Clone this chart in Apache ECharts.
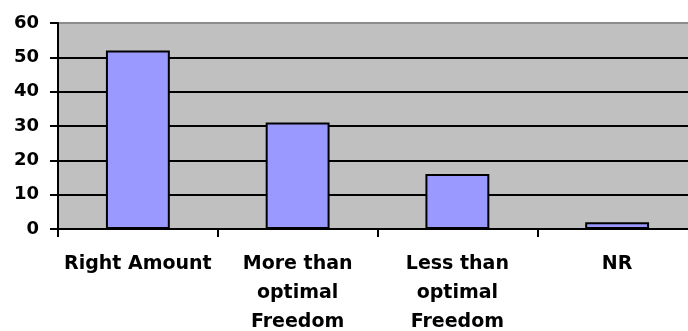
<!DOCTYPE html>
<html>
<head>
<meta charset="utf-8">
<script src="https://cdn.jsdelivr.net/npm/echarts@6/dist/echarts.min.js"></script>
<style>
  html, body { margin: 0; padding: 0; background: #fff; }
  #chart { width: 688px; height: 331px; }
</style>
</head>
<body>
<div id="chart"></div>
<script>
// Survey answers: how much freedom respondents felt they had
const categories = ['Right Amount', 'More than\noptimal\nFreedom', 'Less than\noptimal\nFreedom', 'NR'];
const responses = [52, 31, 16, 2];
const yTicks = { min: 0, max: 60, interval: 10 };

const chart = echarts.init(document.getElementById('chart'), null, { renderer: 'canvas' });
const font = '"DejaVu Sans", "Liberation Sans", Arial, sans-serif';

chart.setOption({
  animation: false,
  backgroundColor: '#ffffff',
  grid: {
    left: 58, top: 23, width: 639, height: 206,
    containLabel: false,
    outerBoundsMode: 'none',
    show: true,
    backgroundColor: '#C0C0C0',
    borderColor: '#8c8c8c',
    borderWidth: 2
  },
  xAxis: {
    type: 'category',
    data: categories,
    axisLine: { lineStyle: { color: '#000', width: 2 } },
    axisTick: { show: true, length: 8, lineStyle: { color: '#000', width: 2 } },
    axisLabel: {
      interval: 0,
      margin: 21,
      color: '#000',
      fontFamily: font,
      fontWeight: 'bold',
      fontSize: 19,
      lineHeight: 29,
      align: 'center'
    }
  },
  yAxis: {
    type: 'value',
    min: yTicks.min,
    max: yTicks.max,
    interval: yTicks.interval,
    axisLine: { show: true, lineStyle: { color: '#000', width: 2 } },
    axisTick: { show: true, length: 8, lineStyle: { color: '#000', width: 2 } },
    axisLabel: {
      margin: 19,
      color: '#000',
      fontFamily: font,
      fontWeight: 'bold',
      fontSize: 18
    },
    splitLine: { show: true, showMaxLine: false, lineStyle: { color: '#000', width: 2 } }
  },
  series: [{
    type: 'bar',
    data: responses,
    barWidth: '40%',
    itemStyle: { color: '#9999FF', borderColor: '#000', borderWidth: 2 }
  }]
});
</script>
</body>
</html>
